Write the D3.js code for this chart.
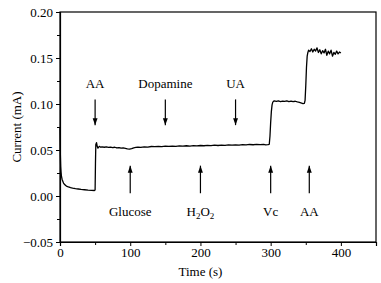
<!DOCTYPE html>
<html>
<head>
<meta charset="utf-8">
<script src="https://cdn.jsdelivr.net/npm/d3@7"></script>
<style>
  body { margin: 0; background: #fff; }
</style>
</head>
<body>
<div id="chart"></div>
<script>
// amperometric trace
const time = [0, 0.5, 1, 1.5, 2, 3, 4, 5, 6, 8, 10, 12, 15, 18, 22, 26, 30, 35, 40, 45, 49, 50, 50.5, 51, 52, 53, 54, 56, 58, 60,
    63, 66, 69, 72, 75, 78, 81, 84, 87, 90, 93, 96, 99, 102, 105, 108, 111, 115, 120, 125, 130, 135, 140, 145, 150,
    155, 160, 165, 170, 175, 180, 185, 190, 195, 200, 205, 210, 215, 220, 225, 230, 235, 240, 245, 250, 255, 260,
    265, 270, 275, 280, 285, 290, 293, 296, 298, 299, 300, 301, 302, 303, 305, 308, 311, 314, 317, 320, 323, 326,
    329, 332, 335, 338, 341, 344, 346, 348, 349, 350, 351, 352, 353, 354, 356, 358, 360, 362, 364, 366, 368, 370,
    372, 374, 376, 378, 380, 382, 384, 386, 388, 390, 392, 394, 396, 398, 400];
const current = [0.075, 0.045, 0.032, 0.026, 0.022, 0.018, 0.016, 0.014, 0.013, 0.0115, 0.0105, 0.0098, 0.0090, 0.0085,
    0.0080, 0.0076, 0.0072, 0.0068, 0.0064, 0.0061, 0.0060, 0.0065, 0.035, 0.056, 0.058, 0.054, 0.052, 0.054, 0.053,
    0.0535, 0.0530, 0.0535, 0.0528, 0.0532, 0.0525, 0.0530, 0.0522, 0.0527, 0.0520, 0.0524, 0.0518, 0.0512, 0.0510,
    0.0516, 0.0524, 0.0528, 0.0532, 0.0528, 0.0535, 0.0532, 0.0538, 0.0536, 0.0540, 0.0537, 0.0542, 0.0540, 0.0543,
    0.0540, 0.0545, 0.0542, 0.0546, 0.0543, 0.0547, 0.0544, 0.0549, 0.0546, 0.0550, 0.0547, 0.0552, 0.0549, 0.0553,
    0.0550, 0.0555, 0.0552, 0.0556, 0.0553, 0.0558, 0.0555, 0.0560, 0.0557, 0.0561, 0.0558, 0.0562, 0.0555, 0.0558,
    0.0562, 0.065, 0.080, 0.092, 0.099, 0.102, 0.1035, 0.1028, 0.1033, 0.1026, 0.1032, 0.1029, 0.1035, 0.1027,
    0.1031, 0.1025, 0.1030, 0.1022, 0.1018, 0.1010, 0.1005, 0.1008, 0.104, 0.120, 0.140, 0.152, 0.156, 0.1585,
    0.1570, 0.1600, 0.1565, 0.1595, 0.1575, 0.1610, 0.1560, 0.1590, 0.1545, 0.1580, 0.1555, 0.1595, 0.1530, 0.1575,
    0.1545, 0.1585, 0.1520, 0.1560, 0.1540, 0.1575, 0.1545, 0.1565, 0.1555];

// injections
const topLabels = ["AA", "Dopamine", "UA"];
const topTimes = [50, 150, 250];
const bottomLabels = ["Glucose", "H2O2", "Vc", "AA"];
const bottomTimes = [100, 200, 300, 355];

const xTicks = [0, 100, 200, 300, 400];
const yTicks = [-0.05, 0.00, 0.05, 0.10, 0.15, 0.20];

const FONT = "'Liberation Serif', 'Times New Roman', 'DejaVu Serif', serif";
const FS = "13px";

const W = 381, H = 283;
const margin = {top: 12, right: 5, bottom: 41, left: 60};
const width = W - margin.left - margin.right,
    height = H - margin.top - margin.bottom;

const svg = d3.select("#chart").append("svg")
    .attr("width", W).attr("height", H)
    .attr("font-family", FONT);

svg.append("defs").append("marker")
    .attr("id", "head")
    .attr("viewBox", "0 0 10 10")
    .attr("refX", 10).attr("refY", 5)
    .attr("markerWidth", 7).attr("markerHeight", 7)
    .attr("markerUnits", "userSpaceOnUse")
    .attr("orient", "auto")
    .append("path").attr("d", "M0,1.5 L10,5 L0,8.5 z").attr("fill", "#000");

const g = svg.append("g").attr("transform", `translate(${margin.left},${margin.top})`);

const x = d3.scaleLinear().domain([0, 450]).range([0, width]);
const y = d3.scaleLinear().domain([-0.05, 0.20]).range([height, 0]);

// frame
g.append("rect").attr("width", width).attr("height", height)
    .attr("fill", "none").attr("stroke", "#000").attr("stroke-width", 1.2);

// minor ticks
g.append("g").attr("transform", `translate(0,${height})`)
    .call(d3.axisBottom(x).tickValues([50, 150, 250, 350]).tickSize(3).tickFormat(""))
    .call(a => a.select(".domain").remove());
g.append("g")
    .call(d3.axisLeft(y).tickValues([-0.025, 0.025, 0.075, 0.125, 0.175]).tickSize(3).tickFormat(""))
    .call(a => a.select(".domain").remove());

// major ticks
const xAxis = g.append("g").attr("transform", `translate(0,${height})`)
    .call(d3.axisBottom(x).tickValues(xTicks).tickSize(4).tickPadding(2).tickFormat(d3.format("d")));
const yAxis = g.append("g")
    .call(d3.axisLeft(y).tickValues(yTicks).tickSize(4).tickPadding(3)
        .tickFormat(d => d3.format(".2f")(d).replace("-", "\u2212")));
[xAxis, yAxis].forEach(a => {
    a.attr("font-family", FONT).attr("font-size", FS);
    a.select(".domain").attr("stroke-width", 1.2);
});
g.selectAll(".tick line").attr("stroke-width", 1);

// trace
const pts = time.map((t, i) => [t, current[i]]);
g.append("path").datum(pts)
    .attr("fill", "none").attr("stroke", "#000").attr("stroke-width", 1.3)
    .attr("stroke-linejoin", "round")
    .attr("d", d3.line().x(d => x(d[0])).y(d => y(d[1])));

// down arrows above the trace
topTimes.forEach((t, i) => {
    g.append("line")
        .attr("x1", x(t)).attr("x2", x(t))
        .attr("y1", y(0.105)).attr("y2", y(0.077))
        .attr("stroke", "#000").attr("stroke-width", 1.2)
        .attr("marker-end", "url(#head)");
    g.append("text").attr("x", x(t)).attr("y", y(0.117))
        .attr("text-anchor", "middle").attr("font-size", FS)
        .text(topLabels[i]);
});

// up arrows below the trace
bottomTimes.forEach((t, i) => {
    g.append("line")
        .attr("x1", x(t)).attr("x2", x(t))
        .attr("y1", y(0.003)).attr("y2", y(0.033))
        .attr("stroke", "#000").attr("stroke-width", 1.2)
        .attr("marker-end", "url(#head)");
    const txt = g.append("text").attr("x", x(t)).attr("y", y(-0.022))
        .attr("text-anchor", "middle").attr("font-size", FS);
    if (bottomLabels[i] === "H2O2") {
        txt.append("tspan").text("H");
        txt.append("tspan").attr("dy", 3).attr("font-size", "9px").text("2");
        txt.append("tspan").attr("dy", -3).text("O");
        txt.append("tspan").attr("dy", 3).attr("font-size", "9px").text("2");
    } else {
        txt.text(bottomLabels[i]);
    }
});

// axis titles
svg.append("text")
    .attr("x", margin.left + x(200)).attr("y", 276)
    .attr("text-anchor", "middle").attr("font-size", FS)
    .text("Time (s)");
svg.append("text")
    .attr("transform", `translate(21,${margin.top + height / 2}) rotate(-90)`)
    .attr("text-anchor", "middle").attr("font-size", FS)
    .text("Current (mA)");
</script>
</body>
</html>
